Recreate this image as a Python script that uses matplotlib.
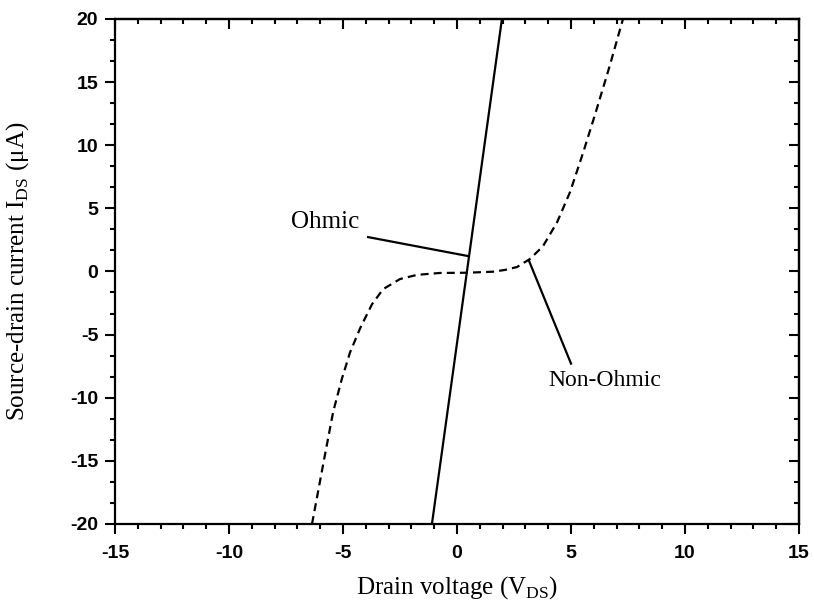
import matplotlib
matplotlib.use('Agg')
import matplotlib.pyplot as plt
from matplotlib.ticker import MultipleLocator

plt.rcParams['mathtext.fontset'] = 'custom'
plt.rcParams['mathtext.rm'] = 'Liberation Serif'
plt.rcParams['axes.unicode_minus'] = False

# ohmic contact: straight line
ohmic_v = [-1.1, 1.97]
ohmic_i = [-20, 20]

# non-ohmic contact: dashed curve
nonohmic_v = [-6.36, -5.79, -5.43, -5.05, -4.69, -4.25, -3.73, -3.24, -2.5, -1.75, -0.75, 0.44,
              1.58, 2.1, 2.63, 3.2, 3.77, 4.39, 4.96, 5.53, 6.1, 6.7, 7.28]
nonohmic_i = [-20, -14.5, -11.1, -8.5, -6.4, -4.5, -2.6, -1.4, -0.6, -0.27, -0.12, -0.1,
              -0.02, 0.12, 0.35, 0.99, 2.0, 3.9, 6.3, 9.4, 12.7, 16.3, 20]

fig = plt.figure(figsize=(8.14, 6.1), dpi=100)
ax = fig.add_axes([0.1413, 0.141, 0.8403, 0.828])

ax.plot(ohmic_v, ohmic_i, color='black', lw=1.6)
ax.plot(nonohmic_v, nonohmic_i, color='black', lw=1.6, dashes=(3.6, 2.3))

serif = 'Liberation Serif'
ax.plot([-3.9, 0.48], [2.72, 1.22], color='black', lw=1.6)
ax.text(-7.3, 3.9, 'Ohmic', family=serif, fontsize=18, va='center', ha='left')
ax.plot([3.16, 5.0], [0.83, -7.3], color='black', lw=1.6)
ax.text(4.0, -8.6, 'Non-Ohmic', family=serif, fontsize=17, va='center', ha='left')

ax.set_xlim(-15, 15)
ax.set_ylim(-20, 20)
ax.xaxis.set_major_locator(MultipleLocator(5))
ax.xaxis.set_minor_locator(MultipleLocator(1))
ax.yaxis.set_major_locator(MultipleLocator(5))
ax.yaxis.set_minor_locator(MultipleLocator(5 / 3))
# Origin style: outward ticks on left/bottom, inward mirror ticks on top/right
ax.tick_params(which='both', direction='out', width=1.5)
ax.tick_params(which='major', length=7, labelsize=14)
ax.tick_params(which='minor', length=3.6)
ax.tick_params(axis='x', which='major', pad=8)
ax.tick_params(axis='y', which='major', pad=5)
ax2 = ax.secondary_xaxis('top')
ax3 = ax.secondary_yaxis('right')
for sec in (ax2, ax3):
    sec.tick_params(which='both', direction='in', width=1.5, labelsize=0)
    sec.tick_params(which='major', length=7)
    sec.tick_params(which='minor', length=3.6)
ax2.xaxis.set_major_locator(MultipleLocator(5))
ax2.xaxis.set_minor_locator(MultipleLocator(1))
ax2.set_xticklabels([])
ax3.yaxis.set_major_locator(MultipleLocator(5))
ax3.yaxis.set_minor_locator(MultipleLocator(5 / 3))
ax3.set_yticklabels([])
for lab in ax.get_xticklabels() + ax.get_yticklabels():
    lab.set_fontweight('bold')
    lab.set_family('Liberation Sans')
for sp in list(ax.spines.values()) + [ax2.spines['top'], ax3.spines['right']]:
    sp.set_linewidth(1.6)

ax.set_xlabel(r'Drain voltage (V$_\mathregular{DS}$)', family=serif, fontsize=18)
ax.set_ylabel(r'Source-drain current I$_\mathregular{DS}$ (μA)', family=serif, fontsize=18)
ax.xaxis.set_label_coords(0.5, -0.1)
ax.yaxis.set_label_coords(-0.123, 0.5)

fig.savefig('out.png', dpi=100)
